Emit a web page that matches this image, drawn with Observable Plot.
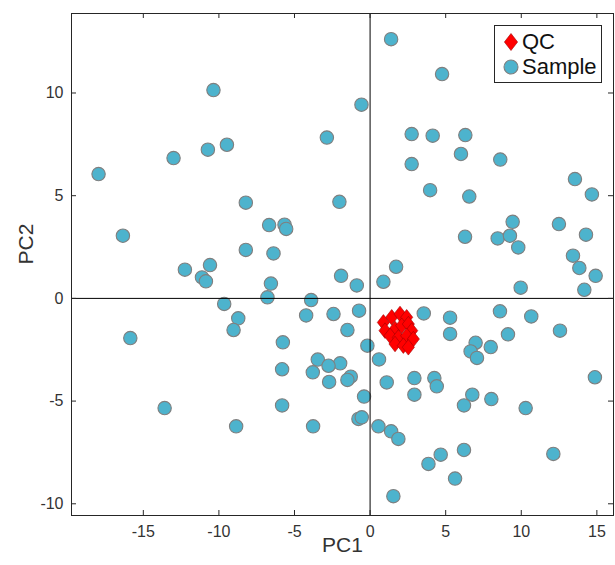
<!DOCTYPE html>
<html><head><meta charset="utf-8">
<script src="https://cdn.jsdelivr.net/npm/d3@7"></script>
<script src="https://cdn.jsdelivr.net/npm/@observablehq/plot@0.6"></script>
<style>
body{margin:0;background:#fff;}
#wrap{position:relative;width:615px;height:565px;}
#legend{position:absolute;left:494px;top:25px;width:106px;height:56px;border:1px solid #262626;background:#fff;font-family:"Liberation Sans",Arial,sans-serif;font-size:22px;color:#111;}
#legend .row{position:absolute;left:0;height:24px;display:flex;align-items:center;}
#legend svg{margin-left:6px;margin-right:1px;}
</style></head><body><div id="wrap"></div>
<script>
const groups = ["QC", "Sample"];
const sampleX = [
  -10.36,-2.86,-10.73,-9.47,-13.0,-17.96,-8.22,-2.03,-16.35,-6.68,-5.66,-5.55,-8.22,-6.39,-0.57,-12.25,-10.59,-11.12,-10.86,-6.56,-6.79,-1.92,-0.88,
  1.39,4.76,2.75,4.14,6.30,6.01,8.61,2.75,13.55,14.67,3.97,6.56,9.43,12.49,6.28,8.44,9.25,9.80,14.28,13.42,13.84,14.92,14.17,9.96,0.88,1.72,
  -2.42,-0.73,-1.50,-0.18,-1.98,-1.28,-1.50,-2.71,-0.40,-0.77,-0.55,-9.65,-8.72,-9.03,-15.86,-3.90,-4.23,-5.77,-3.46,-2.75,-3.79,-5.82,-13.59,-5.82,-8.86,-3.77,
  0.59,3.55,5.29,5.29,8.59,10.66,12.56,9.12,6.98,6.65,7.07,7.98,1.10,2.93,4.25,4.41,2.93,6.76,8.02,6.21,10.29,14.87,0.55,1.39,1.87,4.67,3.86,6.21,5.62,12.12,1.54
];
const sampleY = [
  10.14,7.83,7.24,7.48,6.83,6.05,4.66,4.70,3.05,3.57,3.59,3.38,2.36,2.19,9.43,1.40,1.62,1.02,0.83,0.72,0.05,1.10,0.63,
  12.62,10.92,8.0,7.92,7.95,7.03,6.76,6.54,5.81,5.06,5.27,4.96,3.73,3.62,3.0,2.92,3.05,2.48,3.10,2.08,1.48,1.10,0.42,0.52,0.81,1.54,
  -0.76,-0.60,-1.54,-2.30,-3.16,-3.81,-3.97,-4.07,-4.78,-5.87,-5.79,-0.27,-0.97,-1.54,-1.93,-0.08,-0.83,-2.14,-2.98,-3.28,-3.60,-3.45,-5.34,-5.21,-6.23,-6.23,
  -2.97,-0.73,-0.94,-1.73,-0.63,-0.88,-1.57,-1.75,-2.16,-2.58,-2.90,-2.37,-4.09,-3.88,-3.88,-4.28,-4.69,-4.69,-4.90,-5.21,-5.34,-3.84,-6.23,-6.47,-6.84,-7.61,-8.06,-7.38,-8.77,-7.57,-9.63
];
const qcX = [1.43,1.98,2.42,0.88,0.99,1.65,2.09,2.53,2.75,1.32,1.87,2.42,2.86,1.65,2.20,2.53];
const qcY = [-0.92,-0.76,-0.92,-1.17,-1.57,-1.49,-1.33,-1.25,-1.57,-1.82,-1.90,-1.82,-1.98,-2.22,-2.30,-2.38];
const xTicks = [-15,-10,-5,0,5,10,15];
const yTicks = [-10,-5,0,5,10];
const xLabel = "PC1", yLabel = "PC2";

const samples = sampleX.map((x, i) => ({x, y: sampleY[i], g: groups[1]}));
const qc = qcX.map((x, i) => ({x, y: qcY[i], g: groups[0]}));

const diamond = {draw(ctx, size) {
  const r = Math.sqrt(size / Math.PI), h = r, w = r * 0.78;
  ctx.moveTo(0, -h); ctx.lineTo(w, 0); ctx.lineTo(0, h); ctx.lineTo(-w, 0); ctx.closePath();
}};

const W = 615, H = 565, mL = 71, mR = 2, mT = 13, mB = 50;
const iw = W - mL - mR, ih = H - mT - mB, tl = 5;
const axisColor = "#262626", textColor = "#333";
const sampleFill = "#4db3cd", sampleStroke = "#7f7f7f";
const qcFill = "#ff0000", qcStroke = "#a00000";

const chart = Plot.plot({
  width: W, height: H,
  marginLeft: mL, marginRight: mR, marginTop: mT, marginBottom: mB,
  x: {domain: [-19.75, 16.1]},
  y: {domain: [-10.57, 13.87]},
  style: {fontFamily: "'Liberation Sans', Arial, sans-serif", background: "#fff", color: axisColor},
  marks: [
    Plot.dot(samples, {x: "x", y: "y", r: 6.7, fill: sampleFill, stroke: sampleStroke, strokeWidth: 1.1}),
    Plot.dot(qc, {x: "x", y: "y", r: 7.8, symbol: diamond, fill: qcFill, stroke: qcStroke, strokeWidth: 0.6}),
    Plot.ruleX([0], {stroke: "#000", strokeWidth: 1}),
    Plot.ruleY([0], {stroke: "#000", strokeWidth: 1}),
    Plot.tickX(xTicks, {x: d => d, stroke: axisColor, insetTop: ih - tl}),
    Plot.tickX(xTicks, {x: d => d, stroke: axisColor, insetBottom: ih - tl}),
    Plot.tickY(yTicks, {y: d => d, stroke: axisColor, insetRight: iw - tl}),
    Plot.tickY(yTicks, {y: d => d, stroke: axisColor, insetLeft: iw - tl}),
    Plot.frame({stroke: axisColor, strokeWidth: 1}),
    Plot.axisX(xTicks, {tickSize: 0, tickPadding: 10, fontSize: 16, fill: textColor, label: null, tickFormat: d => String(d)}),
    Plot.axisY(yTicks, {tickSize: 0, tickPadding: 8, fontSize: 16, fill: textColor, label: null, tickFormat: d => String(d)}),
    Plot.text([xLabel], {text: d => d, frameAnchor: "bottom", dy: 36, fontSize: 21, fill: textColor}),
    Plot.text([yLabel], {text: d => d, frameAnchor: "left", dx: -45, rotate: -90, fontSize: 21, fill: textColor})
  ]
});
const wrap = document.getElementById("wrap");
wrap.appendChild(chart);

const legend = document.createElement("div");
legend.id = "legend";
legend.innerHTML =
  `<div class="row" style="top:4px"><svg width="20" height="20" viewBox="-10 -10 20 20"><path d="M0,-8.5L6.6,0L0,8.5L-6.6,0Z" fill="${qcFill}" stroke="${qcStroke}" stroke-width="0.6"/></svg><span>${groups[0]}</span></div>` +
  `<div class="row" style="top:29px"><svg width="20" height="20" viewBox="-10 -10 20 20"><circle r="7" fill="${sampleFill}" stroke="${sampleStroke}" stroke-width="1.1"/></svg><span>${groups[1]}</span></div>`;
wrap.appendChild(legend);
</script>
</body></html>
